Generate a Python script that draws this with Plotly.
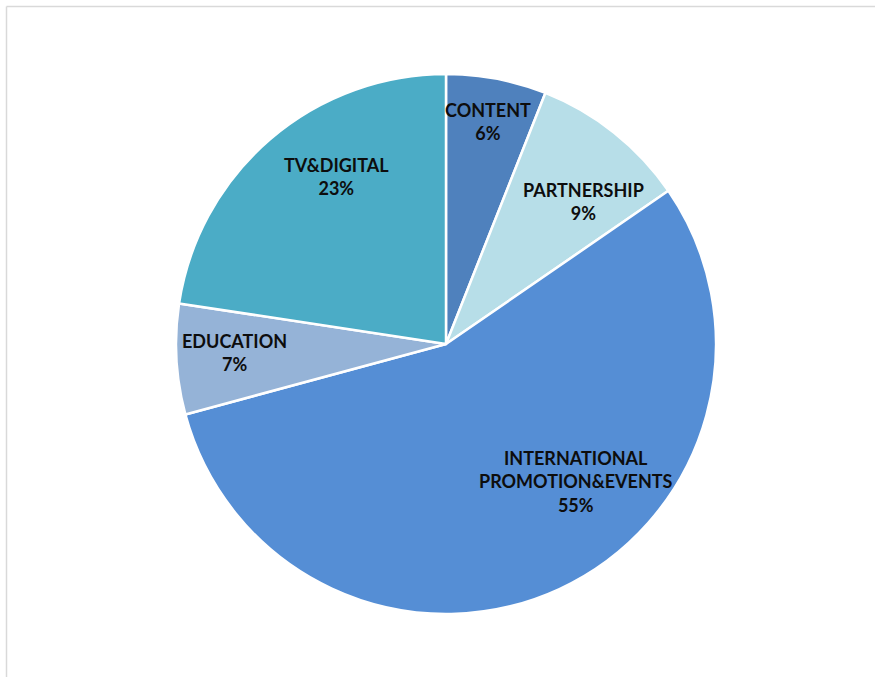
import math
import plotly.graph_objects as go

labels = ["CONTENT", "PARTNERSHIP", "INTERNATIONAL<br>PROMOTION&EVENTS", "EDUCATION", "TV&DIGITAL"]
values = [6.0, 9.4, 55.4, 6.6, 22.6]
colors = ["#4F81BD", "#B7DEE8", "#558ED5", "#95B3D7", "#4BACC6"]

# label placement style: (angle offset in degrees, radial fraction)
label_angle_off = [0.0, 5.5, -18.5, 1.0, 7.5]
label_rfrac = [0.84, 0.735, 0.70, 0.785, 0.74]

W, H = 875, 677
cx, cy, R = 446, 344, 270
ml, mr, mt, mb = cx - R, W - (cx + R), cy - R, H - (cy + R)

fig = go.Figure(go.Pie(
    labels=labels, values=values, sort=False, direction="clockwise", rotation=0,
    marker=dict(colors=colors, line=dict(color="white", width=2.5)),
    textinfo="none", hoverinfo="label+percent", showlegend=False,
))

total = sum(values)
annotations = []
cum = 0.0
for i, (lab, v) in enumerate(zip(labels, values)):
    mid = (cum + v / 2) / total * 360 + label_angle_off[i]
    cum += v
    a = math.radians(mid)
    px = cx + label_rfrac[i] * R * math.sin(a)
    py = cy - label_rfrac[i] * R * math.cos(a)
    pct = round(v / total * 100)
    annotations.append(dict(
        x=(px - ml) / (2 * R), y=1 - (py - mt) / (2 * R), xref="paper", yref="paper",
        text=f"{lab}<br>{pct}%", showarrow=False, xanchor="center", yanchor="middle",
        font=dict(family="Lato", size=18, color="#0d0d0d", weight="bold"),
    ))

# chart-area frame (left and top edges visible)
fx0, fy0 = 6.5, 6.5
shapes = [
    dict(type="line", xref="paper", yref="paper",
         x0=(fx0 - ml) / (2 * R), x1=(W + 5 - ml) / (2 * R),
         y0=1 - (fy0 - mt) / (2 * R), y1=1 - (fy0 - mt) / (2 * R),
         line=dict(color="#D9D9D9", width=1.5)),
    dict(type="line", xref="paper", yref="paper",
         x0=(fx0 - ml) / (2 * R), x1=(fx0 - ml) / (2 * R),
         y0=1 - (fy0 - mt) / (2 * R), y1=1 - (H + 5 - mt) / (2 * R),
         line=dict(color="#D9D9D9", width=1.5)),
]

fig.update_layout(
    width=W, height=H, margin=dict(l=ml, r=mr, t=mt, b=mb),
    paper_bgcolor="white", plot_bgcolor="white",
    annotations=annotations, shapes=shapes,
)
fig.write_html("out.html")
